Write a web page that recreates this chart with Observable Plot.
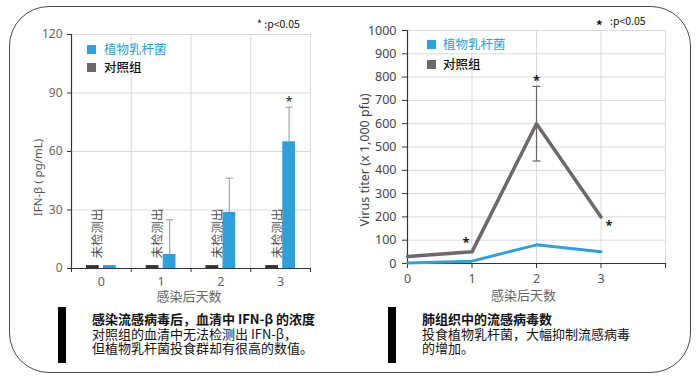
<!DOCTYPE html>
<html>
<head>
<meta charset="utf-8">
<script src="https://cdn.jsdelivr.net/npm/d3@7"></script>
<script src="https://cdn.jsdelivr.net/npm/@observablehq/plot@0.6"></script>
<style>
  html, body { margin: 0; padding: 0; background: #fff; }
  body { width: 700px; height: 387px; position: relative; overflow: hidden;
         font-family: "Noto Sans", "Noto Sans CJK SC", sans-serif; }
  .frame { position: absolute; left: 9px; top: 6px; width: 680px; height: 365px;
           border: 1.6px solid #4a4a4a; border-radius: 40px; box-sizing: content-box; }
  .chart { position: absolute; top: 0; }
  .abs { position: absolute; white-space: nowrap; font-family: "Noto Sans CJK SC", sans-serif; }
  .sw { position: absolute; width: 9px; height: 9px; }
  .bar { position: absolute; width: 8px; height: 56px; background: #000; top: 307px; }
  .cap { position: absolute; top: 312px; font-family: "Noto Sans CJK SC", sans-serif;
         font-size: 13px; color: #111; white-space: nowrap; }
  .cap div { height: 14.5px; line-height: 13px; }
  .cap .t { font-weight: 700; }
</style>
</head>
<body>
<div class="frame"></div>
<div id="left" class="chart" style="left:0"></div>
<div id="right" class="chart" style="left:350px"></div>

<!-- legends -->
<div class="sw" style="left:87px;top:45px;background:#2ea0dc"></div>
<div class="abs" style="left:104px;top:40px;font-size:12.5px;color:#2ea0dc;line-height:18px">植物乳杆菌</div>
<div class="sw" style="left:87px;top:63px;background:#6e6869"></div>
<div class="abs" style="left:104px;top:58px;font-size:12.5px;color:#111;line-height:18px;font-weight:500">对照组</div>
<div class="abs" style="left:257px;top:16px;font-size:10.5px;color:#111;line-height:16px">* :p&lt;0.05</div>

<div class="sw" style="left:427px;top:40px;background:#2ea0dc"></div>
<div class="abs" style="left:443px;top:35px;font-size:12.5px;color:#2ea0dc;line-height:18px">植物乳杆菌</div>
<div class="sw" style="left:427px;top:60px;background:#6e6869"></div>
<div class="abs" style="left:443px;top:55px;font-size:12.5px;color:#111;line-height:18px;font-weight:500">对照组</div>
<div class="abs" style="left:596px;top:17px;font-size:13px;color:#111;line-height:16px;font-weight:700">*</div>
<div class="abs" style="left:610px;top:13px;font-size:10.5px;color:#111;line-height:16px">:p&lt;0.05</div>

<!-- captions -->
<div class="bar" style="left:58px"></div>
<div class="cap" style="left:92px"><div class="t">感染流感病毒后，血清中 IFN-β 的浓度</div><div>对照组的血清中无法检测出 IFN-β，</div><div>但植物乳杆菌投食群却有很高的数值。</div></div>
<div class="bar" style="left:388px"></div>
<div class="cap" style="left:422px"><div class="t">肺组织中的流感病毒数</div><div>投食植物乳杆菌，大幅抑制流感病毒</div><div>的增加。</div></div>

<script>
// ---------- data ----------
const days = [0, 1, 2, 3];
const ifnControl = [1.5, 1.5, 1.5, 1.5];
const ifnLactobacillus = [1.5, 7.2, 28.8, 65];
const ifnErrorTop = [null, 25, 46.3, 82.7];
const ifnSignificantDays = [3];
const ifnTicks = [0, 30, 60, 90, 120];
const notDetectedLabel = "未检测出";

const virusControl = [30, 50, 600, 200];
const virusLactobacillus = [2, 10, 80, 50];
const virusErrorDays = [2];
const virusErrorLow = [440];
const virusErrorHigh = [760];
const virusSignificantDays = [1, 2, 3];
const virusTicks = [0, 100, 200, 300, 400, 500, 600, 700, 800, 900, 1000];
const virusXTicks = [0, 1, 2, 3, 4];

const xTitle = "感染后天数";
const ifnYTitle = "IFN-β ( pg/mL)";
const virusYTitle = "Virus titer (x 1,000 pfu)";

const BLUE = "#2ea0dc", DARK = "#363333", GRAY = "#6e6869";

// ---------- tables ----------
const ifnRows = days.map((d, i) => ({day: d, control: ifnControl[i], lacto: ifnLactobacillus[i], err: ifnErrorTop[i]}));
const ifnErrRows = ifnRows.filter(r => r.err != null);
const boundaries = [days[0] - 0.5, ...days.map(d => d + 0.5)];
const virusRows = days.map((d, i) => ({day: d, control: virusControl[i], lacto: virusLactobacillus[i]}));
const virusErrRows = virusErrorDays.map((d, i) => ({day: d, lo: virusErrorLow[i], hi: virusErrorHigh[i]}));

const capSymbol = {draw(ctx, size) { const r = Math.sqrt(size / Math.PI); ctx.moveTo(-r, 0); ctx.lineTo(r, 0); }};
const font = "'Noto Sans', 'Noto Sans CJK SC', sans-serif";
const intFormat = d => String(d);

// ---------- left chart ----------
const left = Plot.plot({
  width: 340, height: 305,
  marginLeft: 71, marginRight: 30, marginTop: 34, marginBottom: 37,
  style: {fontFamily: font, background: "transparent", overflow: "visible"},
  x: {domain: [boundaries[0], boundaries[boundaries.length - 1]], axis: null},
  y: {domain: [0, 120], axis: null},
  marks: [
    Plot.ruleY(ifnTicks.filter(t => t > 0), {stroke: "#d9d9d9", strokeWidth: 1}),
    Plot.ruleX(boundaries.slice(1), {stroke: "#d9d9d9", strokeWidth: 1}),
    Plot.rect(ifnRows, {x1: d => d.day - 0.5, x2: d => d.day + 0.5, y1: 0, y2: "control", fill: DARK, insetLeft: 15, insetRight: 32}),
    Plot.rect(ifnRows, {x1: d => d.day - 0.5, x2: d => d.day + 0.5, y1: 0, y2: "lacto", fill: BLUE, insetLeft: 32, insetRight: 15}),
    Plot.ruleX(ifnErrRows, {x: "day", y1: "lacto", y2: "err", dx: 8.5, stroke: "#aaaaaa", strokeWidth: 1.3}),
    Plot.dot(ifnErrRows, {x: "day", y: "err", dx: 8.5, symbol: capSymbol, r: 3.5, stroke: "#aaaaaa", strokeWidth: 1.3, fill: "none"}),
    Plot.text(days, {x: d => d, frameAnchor: "bottom", text: () => notDetectedLabel, rotate: -90, textAnchor: "middle", lineAnchor: "middle", dx: -3, dy: -35, fontSize: 12.5, fill: "#555", fontFamily: "'Noto Sans CJK SC'"}),
    Plot.text(ifnRows.filter(r => ifnSignificantDays.includes(r.day)), {x: "day", y: "err", text: () => "*", dx: 8.5, dy: -5, fontSize: 13, fill: "#222"}),
    Plot.ruleY([0], {stroke: "#333", strokeWidth: 1.2}),
    Plot.ruleX([boundaries[0]], {stroke: "#333", strokeWidth: 1.2}),
    Plot.axisY({ticks: ifnTicks, tickSize: 4, tickPadding: 5, stroke: "#333", fill: "#666", fontSize: 12, label: null, tickFormat: intFormat}),
    Plot.axisX({ticks: boundaries, tickSize: 4, tickFormat: () => "", stroke: "#333", label: null}),
    Plot.axisX({ticks: days, tickSize: 4, strokeOpacity: 0, tickPadding: 5, fill: "#666", fontSize: 12.5, label: null, tickFormat: intFormat}),
    Plot.text([ifnYTitle], {frameAnchor: "left", text: d => d, rotate: -90, textAnchor: "middle", lineAnchor: "middle", dx: -33, dy: 26, fontSize: 11.5, fill: "#555"}),
    Plot.text([xTitle], {frameAnchor: "bottom", text: d => d, textAnchor: "middle", lineAnchor: "middle", dx: -2, dy: 28, fontSize: 13, fill: "#666", fontFamily: "'Noto Sans CJK SC'"})
  ]
});
document.getElementById("left").append(left);

// ---------- right chart ----------
const right = Plot.plot({
  width: 340, height: 305,
  marginLeft: 57, marginRight: 25, marginTop: 30, marginBottom: 42,
  style: {fontFamily: font, background: "transparent", overflow: "visible"},
  x: {domain: [virusXTicks[0], virusXTicks[virusXTicks.length - 1]], axis: null},
  y: {domain: [0, 1000], axis: null},
  marks: [
    Plot.ruleY(virusTicks.filter(t => t > 0), {stroke: "#d9d9d9", strokeWidth: 1}),
    Plot.ruleX(virusXTicks.filter(t => t > 0), {stroke: "#d9d9d9", strokeWidth: 1}),
    Plot.ruleY([0], {stroke: "#333", strokeWidth: 1.2}),
    Plot.ruleX([0], {stroke: "#333", strokeWidth: 1.2}),
    Plot.axisY({ticks: virusTicks, tickSize: 5, tickPadding: 6, stroke: "#333", fill: "#444", fontSize: 12.5, label: null, tickFormat: intFormat}),
    Plot.axisX({ticks: virusXTicks, tickSize: 5, tickPadding: 6, stroke: "#333", fill: "#555", fontSize: 12.5, label: null, tickFormat: d => (d < 4 ? String(d) : "")}),
    Plot.ruleX(virusErrRows, {x: "day", y1: "lo", y2: "hi", stroke: "#666", strokeWidth: 1.2}),
    Plot.dot(virusErrRows, {x: "day", y: "lo", symbol: capSymbol, r: 4, stroke: "#666", strokeWidth: 1.2, fill: "none"}),
    Plot.dot(virusErrRows, {x: "day", y: "hi", symbol: capSymbol, r: 4, stroke: "#666", strokeWidth: 1.2, fill: "none"}),
    Plot.line(virusRows, {x: "day", y: "control", stroke: GRAY, strokeWidth: 3.5}),
    Plot.line(virusRows, {x: "day", y: "lacto", stroke: BLUE, strokeWidth: 3}),
    Plot.text(virusRows.filter(r => r.day === virusSignificantDays[0]), {x: "day", y: "control", text: () => "*", dx: -6, dy: -9, fontSize: 13, fontWeight: 700, fill: "#222"}),
    Plot.text(virusErrRows.filter(r => virusSignificantDays.includes(r.day)), {x: "day", y: "hi", text: () => "*", dx: 0, dy: -6, fontSize: 13, fontWeight: 700, fill: "#222"}),
    Plot.text(virusRows.filter(r => r.day === virusSignificantDays[2]), {x: "day", y: "control", text: () => "*", dx: 8, dy: 9, fontSize: 13, fontWeight: 700, fill: "#222"}),
    Plot.text([virusYTitle], {frameAnchor: "left", text: d => d, rotate: -90, textAnchor: "middle", lineAnchor: "middle", dx: -43, dy: 13, fontSize: 12.5, fill: "#444"}),
    Plot.text([xTitle], {frameAnchor: "bottom", text: d => d, textAnchor: "middle", lineAnchor: "middle", dx: -13, dy: 32, fontSize: 13, fill: "#666", fontFamily: "'Noto Sans CJK SC'"})
  ]
});
document.getElementById("right").append(right);
</script>
</body>
</html>
